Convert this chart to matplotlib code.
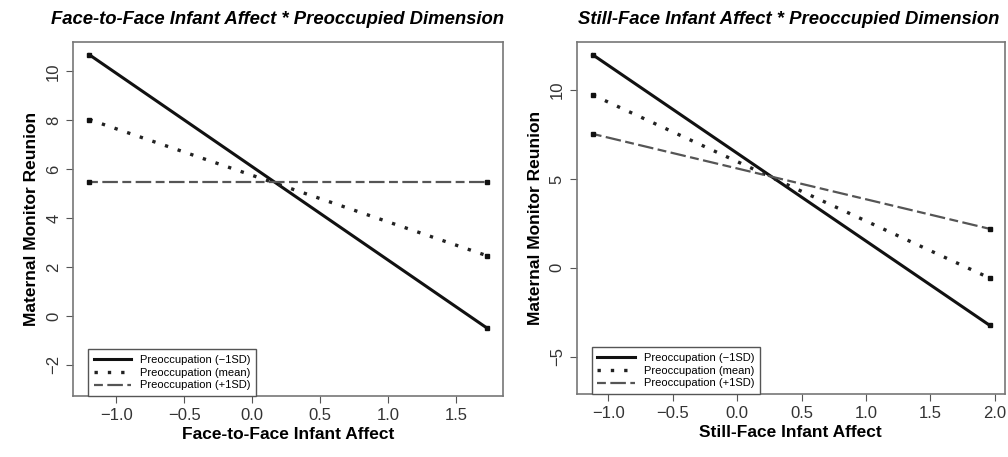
import numpy as np
import matplotlib
matplotlib.use('Agg')
import matplotlib.pyplot as plt

plt.rcParams['font.family'] = ['Liberation Sans', 'DejaVu Sans']

# Face-to-Face panel
ff_x = [-1.20, 1.73]
ff_low = [10.68, -0.50]
ff_mean = [8.03, 2.46]
ff_high = [5.48, 5.48]

# Still-Face panel
sf_x = [-1.12, 1.96]
sf_low = [11.98, -3.24]
sf_mean = [9.72, -0.58]
sf_high = [7.53, 2.19]

labels = ['Preoccupation (\u22121SD)', 'Preoccupation (mean)', 'Preoccupation (+1SD)']
titles = ['Face-to-Face Infant Affect * Preoccupied Dimension',
          'Still-Face Infant Affect * Preoccupied Dimension']
xlabels = ['Face-to-Face Infant Affect', 'Still-Face Infant Affect']

fig = plt.figure(figsize=(10.08, 4.57), dpi=100)
ax1 = fig.add_axes([0.0724, 0.1335, 0.4266, 0.7746])
ax2 = fig.add_axes([0.5721, 0.1378, 0.4249, 0.7703])

styles = [
    dict(color='#111111', lw=2.2, ls='-'),
    dict(color='#222222', lw=2.4, ls=(0, (1, 3))),
    dict(color='#555555', lw=1.6, ls=(0, (4, 2, 7, 2))),
]

def panel(ax, x, ys, title, xlabel, xlim, ylim, xticks, yticks, title_x):
    for y, st, lab in zip(ys, styles, labels):
        ax.plot(x, y, label=lab, **st)
        ax.plot(x, y, ls='none', marker='s', ms=3.2, color='#111111')
    ax.set_xlim(*xlim)
    ax.set_ylim(*ylim)
    ax.set_xticks(xticks)
    ax.set_yticks(yticks)
    ax.set_xticklabels(['\u2212' + f'{abs(t):.1f}' if t < 0 else f'{t:.1f}' for t in xticks])
    ax.set_yticklabels(['\u2212' + str(abs(t)) if t < 0 else str(t) for t in yticks],
                       rotation=90, va='center')
    ax.tick_params(labelsize=12, length=5, color='#555555', labelcolor='#333333')
    for sp in ax.spines.values():
        sp.set_color('#777777')
        sp.set_linewidth(1.2)
    ax.set_title(title, fontsize=13.3, fontweight='bold', style='italic', pad=13, x=title_x)
    ax.set_xlabel(xlabel, fontsize=12.5, fontweight='bold', labelpad=3)
    ax.set_ylabel('Maternal Monitor Reunion', fontsize=12.5, fontweight='bold', labelpad=5)
    leg = ax.legend(loc='lower left', bbox_to_anchor=(0.035, 0.0), borderaxespad=0,
                    fontsize=8, fancybox=False, framealpha=1, edgecolor='#555555',
                    handlelength=3.4, borderpad=0.5, labelspacing=0.25)
    leg.get_frame().set_linewidth(1.0)

panel(ax1, ff_x, [ff_low, ff_mean, ff_high], titles[0], xlabels[0],
      (-1.32, 1.846), (-3.27, 11.2), [-1.0, -0.5, 0.0, 0.5, 1.0, 1.5], [-2, 0, 2, 4, 6, 8, 10], 0.475)
panel(ax2, sf_x, [sf_low, sf_mean, sf_high], titles[1], xlabels[1],
      (-1.245, 2.078), (-7.1, 12.7), [-1.0, -0.5, 0.0, 0.5, 1.0, 1.5, 2.0], [-5, 0, 5, 10], 0.495)

fig.savefig('out.png', dpi=100)
